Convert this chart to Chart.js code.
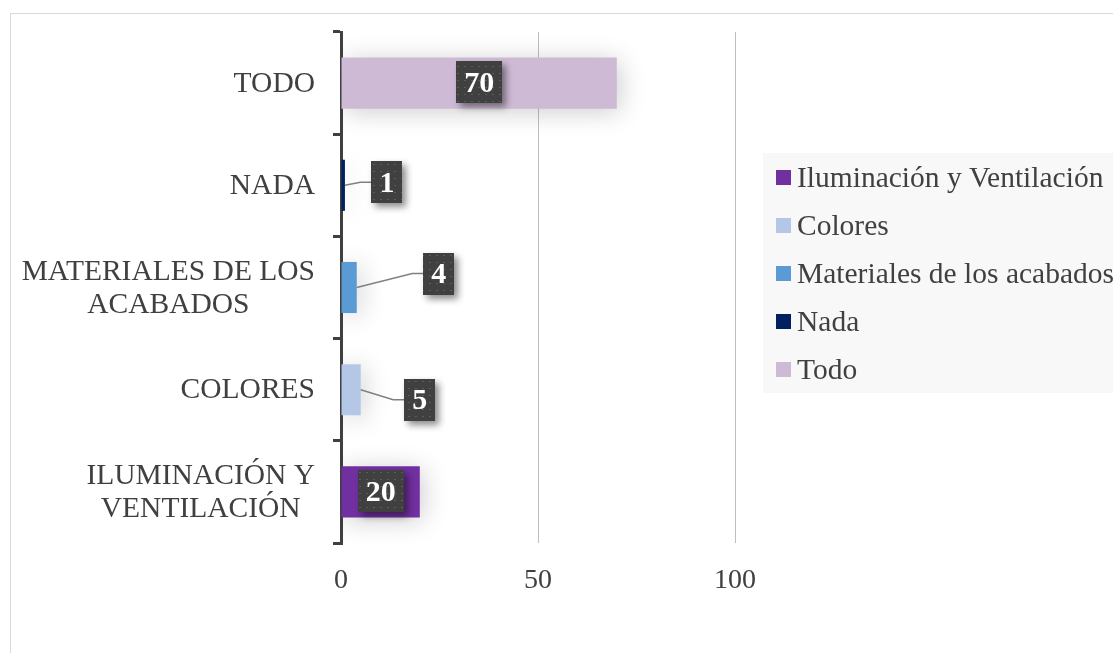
<!DOCTYPE html>
<html lang="es">
<head>
<meta charset="utf-8">
<title>Encuesta</title>
<script src="https://cdn.jsdelivr.net/npm/chart.js@4/dist/chart.umd.min.js"></script>
<style>
  html, body { margin: 0; padding: 0; background: #fff; overflow: hidden; }
  #wrap { position: relative; width: 1113px; height: 653px; overflow: hidden; }
  #frame { position: absolute; left: 10px; top: 13px; width: 1200px; height: 700px;
           border: 1px solid #d9d9d9; box-sizing: border-box; }
  canvas { position: absolute; left: 0; top: 0; }
</style>
</head>
<body>
<div id="wrap">
  <div id="frame"></div>
  <canvas id="chart" width="1113" height="653"></canvas>
</div>
<script>
// Categories from bottom to top, one series per category
const categories = [
    ['ILUMINACIÓN Y', 'VENTILACIÓN'],
    ['COLORES'],
    ['MATERIALES DE LOS', 'ACABADOS'],
    ['NADA'],
    ['TODO']
];
const seriesNames = ['Iluminación y Ventilación', 'Colores', 'Materiales de los acabados', 'Nada', 'Todo'];
const values = [20, 5, 4, 1, 70];
const seriesColors = ['#7030a0', '#b4c7e7', '#5b9bd5', '#002060', '#cfbad6'];
const xTicks = [0, 50, 100];

// Callout placement for the small bars (box centre relative to bar end); null = centred in bar
const calloutOffsets = [null, { dx: 59, dy: 10 }, { dx: 82, dy: -14 }, { dx: 42, dy: -3 }, null];

const TEXT = '#404040';
const SERIF = "'Liberation Serif', 'Times New Roman', serif";
const LABEL_FONT = '29.5px ' + SERIF;

// Small dotted texture for the label boxes
function makeDotPattern(ctx) {
    const c = document.createElement('canvas');
    c.width = 7; c.height = 7;
    const p = c.getContext('2d');
    p.fillStyle = '#404040';
    p.fillRect(0, 0, 7, 7);
    p.fillStyle = '#5c5c5c';
    p.fillRect(2, 3, 2, 1);
    return ctx.createPattern(c, 'repeat');
}

// Soft glow behind the bars
const barShadow = {
    id: 'barShadow',
    beforeDatasetsDraw(chart) {
        const ctx = chart.ctx;
        ctx.save();
        ctx.shadowColor = 'rgba(0,0,0,0.2)';
        ctx.shadowBlur = 26;
        ctx.shadowOffsetX = 3;
        ctx.shadowOffsetY = 3;
    },
    afterDatasetsDraw(chart) {
        chart.ctx.restore();
    }
};

// Category labels: single lines right-aligned, wrapped lines centred as a block
const categoryLabels = {
    id: 'categoryLabels',
    afterDraw(chart) {
        const ctx = chart.ctx;
        const yScale = chart.scales.y;
        const rightEdge = chart.chartArea.left - 26;
        const lineH = 33;
        ctx.save();
        ctx.font = LABEL_FONT;
        ctx.fillStyle = TEXT;
        ctx.textBaseline = 'middle';
        ctx.textAlign = 'center';
        categories.forEach((lines, i) => {
            const yc = yScale.getPixelForValue(i);
            const widest = Math.max(...lines.map(l => ctx.measureText(l).width));
            const cx = rightEdge - widest / 2;
            const y0 = yc - (lines.length - 1) * lineH / 2;
            lines.forEach((l, k) => ctx.fillText(l, cx, y0 + k * lineH + 1));
        });
        ctx.restore();
    }
};

// Dark value boxes, with leader lines for the callouts
const valueBoxes = {
    id: 'valueBoxes',
    afterDraw(chart) {
        const ctx = chart.ctx;
        const pattern = makeDotPattern(ctx);
        ctx.save();
        ctx.font = 'bold 30px ' + SERIF;
        chart.data.datasets.forEach((ds, i) => {
            const bar = chart.getDatasetMeta(i).data[i];
            if (!bar) return;
            const text = String(values[i]);
            const w = ctx.measureText(text).width + 16;
            const h = 42;
            const off = calloutOffsets[i];
            let cx, cy;
            if (off) {
                cx = bar.x + off.dx;
                cy = bar.y + off.dy;
                const left = cx - w / 2;
                ctx.strokeStyle = '#808080';
                ctx.lineWidth = 1.5;
                ctx.beginPath();
                ctx.moveTo(bar.x, bar.y);
                ctx.lineTo(left - 11, cy);
                ctx.lineTo(left, cy);
                ctx.stroke();
            } else {
                cx = (bar.x + bar.base) / 2;
                cy = bar.y - 1;
            }
            ctx.save();
            ctx.shadowColor = 'rgba(0,0,0,0.45)';
            ctx.shadowBlur = 7;
            ctx.shadowOffsetX = 4;
            ctx.shadowOffsetY = 4;
            ctx.fillStyle = pattern;
            ctx.fillRect(Math.round(cx - w / 2), Math.round(cy - h / 2), Math.round(w), h);
            ctx.restore();
            ctx.fillStyle = '#ffffff';
            ctx.textAlign = 'center';
            ctx.textBaseline = 'middle';
            ctx.fillText(text, cx, cy + 2);
        });
        ctx.restore();
    }
};

// Legend panel on the right
const sideLegend = {
    id: 'sideLegend',
    afterDraw(chart) {
        const ctx = chart.ctx;
        const left = chart.chartArea.right + 28;
        const top = 153;
        const rowH = 48;
        ctx.save();
        ctx.fillStyle = '#f8f8f8';
        ctx.fillRect(left, top, 400, rowH * seriesNames.length);
        ctx.font = LABEL_FONT;
        ctx.textBaseline = 'middle';
        ctx.textAlign = 'left';
        seriesNames.forEach((name, i) => {
            const yc = top + 25 + i * rowH;
            ctx.fillStyle = seriesColors[i];
            ctx.fillRect(left + 13, yc - 8, 15, 15);
            ctx.fillStyle = TEXT;
            ctx.fillText(name, left + 34, yc + 1);
        });
        ctx.restore();
    }
};

const datasets = seriesNames.map((name, i) => ({
    label: name,
    data: categories.map((_, j) => (j === i ? values[i] : null)),
    backgroundColor: seriesColors[i],
    borderWidth: 0,
    barPercentage: 0.5,
    categoryPercentage: 1
}));

new Chart(document.getElementById('chart'), {
    type: 'bar',
    data: {
        labels: categories.map(l => l.join(' ')),
        datasets: datasets
    },
    options: {
        indexAxis: 'y',
        responsive: false,
        animation: false,
        events: [],
        layout: {
            padding: { left: 0, top: 32, right: 378, bottom: 0 }
        },
        plugins: {
            legend: { display: false },
            tooltip: { enabled: false }
        },
        scales: {
            x: {
                stacked: true,
                min: 0,
                max: 100,
                afterBuildTicks(scale) {
                    scale.ticks = xTicks.map(v => ({ value: v }));
                },
                afterFit(scale) { scale.height = 110; },
                border: { display: false },
                grid: {
                    drawTicks: false,
                    color: c => (c.tick && c.tick.value === 0 ? 'rgba(0,0,0,0)' : '#bfbfbf'),
                    lineWidth: 1
                },
                ticks: {
                    color: TEXT,
                    padding: 21,
                    font: { family: SERIF, size: 28 }
                }
            },
            y: {
                stacked: true,
                reverse: true,
                z: 1,
                afterFit(scale) { scale.width = 341; },
                border: { display: true, color: '#404040', width: 3 },
                grid: {
                    offset: true,
                    drawOnChartArea: false,
                    drawTicks: true,
                    tickLength: 8,
                    color: '#404040',
                    lineWidth: 3
                },
                ticks: { display: false }
            }
        }
    },
    plugins: [barShadow, categoryLabels, valueBoxes, sideLegend]
});
</script>
</body>
</html>
